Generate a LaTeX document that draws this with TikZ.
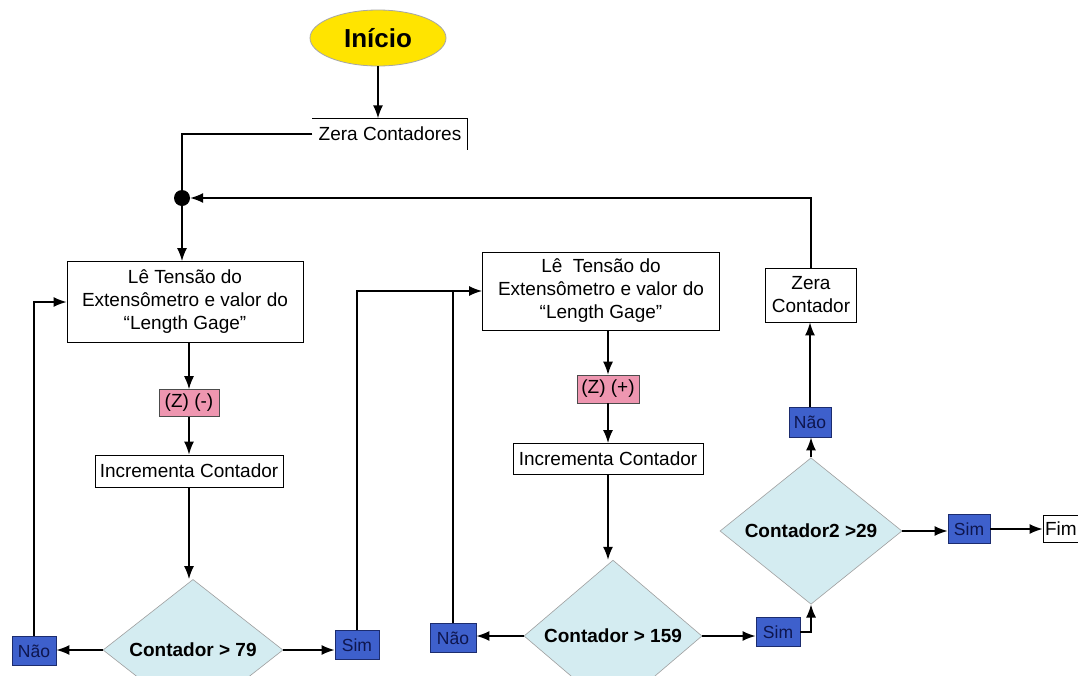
\documentclass[tikz,border=0pt]{standalone}
\usepackage{fontspec}
\setmainfont{Liberation Sans}
\usetikzlibrary{arrows.meta,shapes.geometric}
\definecolor{startyellow}{RGB}{255,228,0}
\definecolor{tagpink}{RGB}{238,150,176}
\definecolor{decfill}{RGB}{212,236,241}
\definecolor{ansblue}{RGB}{62,96,204}
\definecolor{ansline}{RGB}{28,44,110}
\definecolor{anstext}{RGB}{14,22,78}
\begin{document}
\begin{tikzpicture}[x=1pt,y=-1pt,
  font=\fontsize{19}{23}\selectfont,
  proc/.style={rectangle, draw=black, line width=0.8pt, fill=white, inner sep=0pt, align=center},
  tag/.style={rectangle, draw=black!70, line width=0.6pt, fill=tagpink, inner sep=0pt},
  decision/.style={diamond, draw=gray!75, line width=0.6pt, fill=decfill, inner sep=0pt,
    font=\fontsize{19}{23}\selectfont\bfseries},
  answer/.style={rectangle, draw=ansline, line width=0.8pt, fill=ansblue, text=anstext,
    minimum width=44pt, minimum height=29pt, inner sep=0pt, font=\fontsize{17.5}{20}\selectfont},
  flow/.style={line width=1.5pt, -{Latex[length=13pt,width=10pt]}},
  link/.style={line width=1.5pt}
]
\useasboundingbox (0,0) rectangle (1078,675);
\clip (0,0) rectangle (1078,675);
\fill[white] (0,0) rectangle (1078,675);

% start and reset
\node[ellipse, draw=gray!70, line width=0.8pt, fill=startyellow, minimum width=136pt, minimum height=56pt,
      inner sep=0pt, font=\fontsize{26}{30}\selectfont\bfseries] (start) at (378,38) {Início};
\node[inner sep=0pt, minimum width=155pt, minimum height=31pt] (reset) at (390,134) {Zera Contadores};
\draw[line width=0.8pt] (reset.north west) -- (reset.north east) -- (reset.south east);
\node[circle, fill=black, minimum size=16pt, inner sep=0pt] (merge) at (182,198) {};

% first pass (decreasing)
\node[proc, minimum width=236pt, minimum height=81pt] (readA) at (185,302)
  {Lê Tensão do\\Extensômetro e valor do\\“Length Gage”};
\node[tag, minimum width=60pt, minimum height=27pt] (minus) at (189,403) {(Z) (-)};
\node[proc, minimum width=188pt, minimum height=32pt] (incA) at (189,471) {Incrementa Contador};
\node[decision, minimum width=180pt, minimum height=74pt] (testA) at (193,650) {Contador > 79};
\node[answer] (noA) at (34,651) {Não};
\node[answer] (yesA) at (357,645) {Sim};

% second pass (increasing)
\node[proc, minimum width=237pt, minimum height=78pt] (readB) at (601,291)
  {Lê\ \ Tensão do\\Extensômetro e valor do\\“Length Gage”};
\node[tag, minimum width=62pt, minimum height=28pt] (plus) at (608,389) {(Z) (+)};
\node[proc, minimum width=190pt, minimum height=31pt] (incB) at (608,459) {Incrementa Contador};
\node[decision, minimum width=178pt, minimum height=80pt] (testB) at (613,636) {Contador > 159};
\node[answer, minimum width=46pt] (noB) at (453,638) {Não};
\node[answer] (yesB) at (778,632) {Sim};

% cycle counter
\node[decision, minimum width=182pt, minimum height=96pt] (testC) at (811,531) {Contador2 >29};
\node[answer, minimum width=42pt, minimum height=30pt] (noC) at (810,422) {Não};
\node[proc, minimum width=91pt, minimum height=54pt] (resetC) at (811,295) {Zera\\Contador};
\node[answer, minimum width=42pt] (yesC) at (969,529) {Sim};
\node[proc, minimum width=44pt, minimum height=27pt, text width=40pt, align=left] (finish) at (1065,529) {Fim};

% connectors
\draw[flow] (start) -- (reset.north -| start);
\draw[link] (reset.west) -| (merge);
\draw[flow] (merge) -- (readA.north -| merge);
\draw[flow] (resetC.north) |- (merge);

\draw[flow] (readA.south -| minus) -- (minus);
\draw[flow] (minus) -- (incA);
\draw[flow] (incA.south) -- (testA.north -| incA.south);
\draw[flow] (testA.west) -- (noA.east |- testA.west);
\draw[flow] (testA.east) -- (yesA.west |- testA.east);
\draw[flow] (noA.north) |- (readA.west);
\draw[flow] (yesA.north) |- (readB.west);
\draw[link] (noB.north) -- (noB.north |- readB.west);

\draw[flow] (readB.south -| plus) -- (plus);
\draw[flow] (plus) -- (incB);
\draw[flow] (incB.south) -- (testB.north -| incB.south);
\draw[flow] (testB.west) -- (noB.east |- testB.west);
\draw[flow] (testB.east) -- (yesB.west |- testB.east);
\draw[flow] (yesB.east) -| (testC.south);

\draw[flow] (testC.north) -- (noC.south -| testC.north);
\draw[flow] (noC.north) -- (resetC.south -| noC.north);
\draw[flow] (testC.east) -- (yesC.west |- testC.east);
\draw[flow] (yesC.east) -- (finish.west |- yesC.east);
\end{tikzpicture}
\end{document}
